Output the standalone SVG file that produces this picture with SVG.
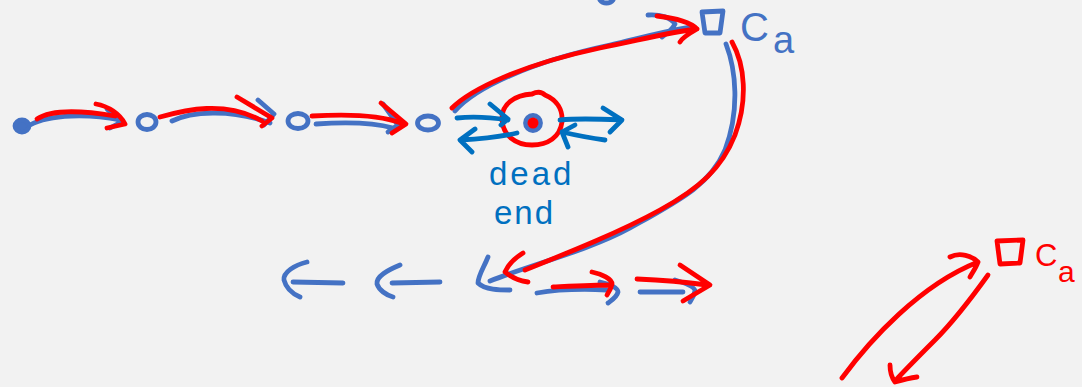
<svg xmlns="http://www.w3.org/2000/svg" width="1082" height="387" viewBox="0 0 1082 387">
  <style>
    .ink { fill: none; stroke-width: 4.8; stroke-linecap: round; stroke-linejoin: round; }
    .b { stroke: #4472C4; }
    .d { stroke: #0070C0; }
    .r { stroke: #FF0000; }
    .solid { fill: #4472C4; }
    .lbl { font-family: "Liberation Sans", "DejaVu Sans", sans-serif; }
  </style>
  <rect width="1082" height="387" fill="#F2F2F2"/>

  <!-- small stroke cut off at the top edge -->
  <path class="ink b" d="M600,0 C603,4 610,4 613,0"/>

  <!-- nodes on the top row -->
  <g id="node-start">
    <ellipse cx="22" cy="126" rx="7" ry="6" class="ink b solid"/>
  </g>
  <g id="node-2">
    <ellipse cx="147" cy="122" rx="9" ry="7.5" class="ink b"/>
  </g>
  <g id="node-3">
    <ellipse cx="298" cy="121" rx="10" ry="7.5" class="ink b"/>
  </g>
  <g id="node-4">
    <ellipse cx="428" cy="123" rx="10.5" ry="7" class="ink b"/>
  </g>
  <g id="node-dead-end">
    <path class="ink r" d="M502,120 C501,104 515,95 532,94 C536,92 541,91 545,95 C557,100 563,110 562,122 C560,137 548,145 532,145 C515,145 503,135 502,120 Z"/>
    <circle cx="533" cy="123" r="7.5" class="ink b"/>
    <circle cx="533" cy="123" r="5.5" fill="#FF0000"/>
    <text class="lbl" x="489" y="185" font-size="33" letter-spacing="3" fill="#0070C0">dead</text>
    <text class="lbl" x="494" y="224" font-size="33" letter-spacing="2" fill="#0070C0">end</text>
  </g>

  <!-- Ca, upper -->
  <g id="node-ca-top">
    <path class="ink b" d="M702,12 L723,11 L720,33 L705,33 Z"/>
    <text class="lbl" x="740" y="41" font-size="40" fill="#4472C4">C<tspan x="773" y="53" font-size="38">a</tspan></text>
  </g>

  <!-- Ca, lower right -->
  <g id="node-ca-bottom">
    <path class="ink r" d="M997,241 L1023,240 L1020,263 L1000,264 Z"/>
    <text class="lbl" x="1035" y="266" font-size="31" fill="#FF0000">C<tspan x="1058" y="282" font-size="30">a</tspan></text>
  </g>

  <!-- bottom row marker -->
  <g id="node-bottom-left">
    <path class="ink b" d="M488,257 C484,267 478,276 478,283 C485,290 500,290 510,290"/>
  </g>

  <g id="connectors">
    <!-- top row: blue then red over it -->
    <path class="ink b" d="M30,125 C50,114 90,114 120,120 M107,109 L121,122 L110,128"/>
    <path class="ink r" d="M37,119 C50,110 80,110 115,116 M96,104 C108,106 120,114 125,124 L107,128"/>

    <path class="ink b" d="M172,121 C190,112 230,108 270,123 M258,100 L274,114 L264,125"/>
    <path class="ink r" d="M160,117 C185,110 225,100 262,121 M237,97 L272,118 L262,126"/>

    <path class="ink b" d="M316,124 C345,122 375,123 393,128 M383,104 L398,125 L388,132"/>
    <path class="ink r" d="M312,116 C345,114 380,115 401,123 M381,103 L406,124 L392,133"/>

    <!-- long arc up to Ca -->
    <path class="ink b" d="M455,111 C475,88 530,62 610,45 C640,38 660,32 690,27 M648,15 C660,14 672,18 675,24 C672,30 666,34 662,37"/>
    <path class="ink r" d="M452,108 C470,90 520,65 600,48 C640,40 670,32 697,29 M657,16 C675,18 690,22 697,29 C690,33 682,38 680,42"/>

    <!-- return arc down to the bottom row -->
    <path class="ink b" d="M726,44 C736,70 740,110 725,150 C710,185 680,200 630,228 C590,250 530,265 490,281"/>
    <path class="ink r" d="M732,42 C745,65 748,100 735,135 C722,168 700,188 660,210 C620,232 570,252 525,270 M523,253 C515,258 508,265 505,272 C512,278 520,281 528,282"/>

    <!-- dead-end arrows -->
    <path class="ink d" d="M457,118 C475,116 495,118 508,120 M490,104 L508,119 L501,125"/>
    <path class="ink d" d="M517,133 C500,137 480,139 460,140 M475,129 L460,140 L472,152"/>
    <path class="ink d" d="M560,120 C580,118 600,119 622,120 M603,108 L622,120 L610,132"/>
    <path class="ink d" d="M605,140 C590,138 575,135 562,132 M575,125 L562,132 L568,147"/>

    <!-- bottom row, leftward arrows -->
    <path class="ink b" d="M307,262 C295,265 283,272 284,280 C286,288 293,294 300,297 M293,282 L343,283"/>
    <path class="ink b" d="M400,265 C388,270 376,276 377,284 C379,290 386,295 393,297 M392,283 L440,282"/>

    <!-- bottom row, rightward arrows -->
    <path class="ink b" d="M537,293 C560,289 585,289 607,290 M600,282 C610,284 618,288 618,292 C617,297 612,300 608,303"/>
    <path class="ink r" d="M553,287 C575,286 595,285 610,285 M592,272 C602,274 612,279 612,284 C611,289 609,292 607,295"/>
    <path class="ink b" d="M640,292 L683,292 M675,280 C685,283 695,287 695,291 C694,296 692,299 690,302"/>
    <path class="ink r" d="M637,279 C660,280 685,282 707,285 M680,265 L710,285 L683,301"/>

    <!-- lower right loop -->
    <path class="ink r" d="M842,378 C870,340 920,285 978,262 M950,257 C960,252 972,256 978,262 C976,268 972,273 970,277"/>
    <path class="ink r" d="M988,275 C970,300 955,320 935,340 C920,355 905,370 895,381 M890,365 C890,372 892,378 895,382 C902,380 910,378 917,377"/>
  </g>
</svg>
